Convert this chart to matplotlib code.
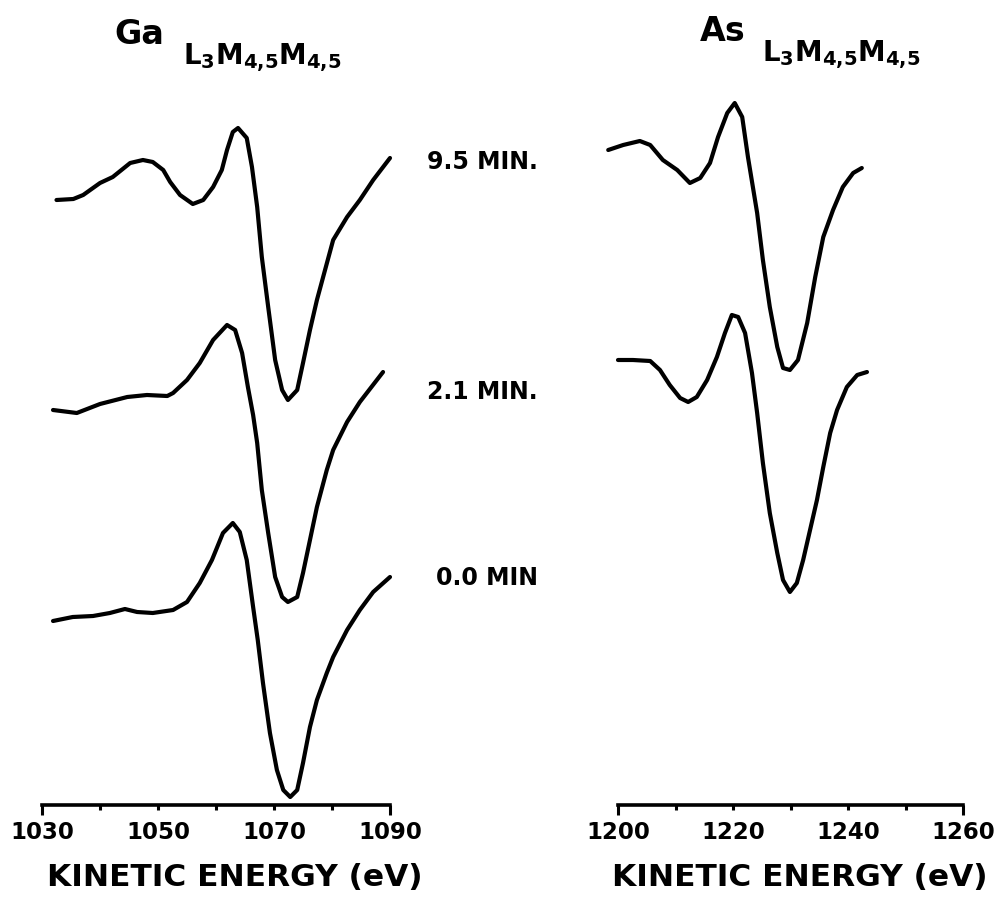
import numpy as np
import matplotlib.pyplot as plt
from matplotlib.ticker import MultipleLocator

# Ga L3M45M45 spectra (kinetic energy in eV, signal in arbitrary units incl. vertical offset)
ga_95_e = [1032.5, 1035.4, 1037.1, 1040.0, 1042.2, 1045.2, 1047.4, 1049.1, 1050.9, 1052.1,
           1053.8, 1056.0, 1057.8, 1059.5, 1061.0, 1061.9, 1062.9, 1063.8, 1065.3, 1066.2,
           1067.1, 1067.9, 1069.0, 1070.2, 1071.4, 1072.4, 1074.0, 1075.0, 1076.2, 1077.4,
           1078.8, 1080.2, 1082.6, 1084.8, 1087.1, 1090.0]
ga_95_y = [600, 601, 605, 617, 623, 637, 640, 638, 630, 618,
           605, 596, 600, 613, 630, 650, 668, 672, 662, 633,
           593, 543, 493, 440, 410, 400, 410, 437, 470, 500,
           530, 560, 583, 600, 620, 642]

ga_21_e = [1031.9, 1036.0, 1040.0, 1044.7, 1048.1, 1051.6, 1052.6, 1055.0, 1057.2, 1059.5,
           1061.9, 1063.3, 1064.5, 1065.5, 1066.4, 1067.1, 1067.9, 1069.0, 1070.2, 1071.4,
           1072.4, 1074.0, 1075.0, 1076.2, 1077.4, 1079.1, 1080.2, 1082.6, 1084.8, 1088.8]
ga_21_y = [390, 387, 396, 403, 405, 404, 407, 420, 437, 460,
           475, 470, 447, 413, 385, 357, 310, 267, 223, 203,
           198, 203, 227, 260, 293, 330, 350, 378, 398, 428]

ga_00_e = [1031.9, 1035.3, 1038.8, 1041.7, 1044.3, 1046.4, 1049.1, 1052.6, 1055.0, 1057.2,
           1059.3, 1061.2, 1062.9, 1064.1, 1065.3, 1066.4, 1067.2, 1068.1, 1069.3, 1070.5,
           1071.6, 1072.8, 1074.0, 1075.0, 1076.2, 1077.4, 1079.1, 1080.2, 1082.6, 1084.8,
           1087.1, 1090.0]
ga_00_y = [179, 183, 184, 187, 191, 188, 187, 190, 198, 217,
           240, 267, 277, 268, 240, 193, 160, 117, 67, 30,
           10, 3, 10, 37, 73, 100, 127, 143, 170, 190,
           208, 223]

# As L3M45M45 spectra
as_top_e = [1198.3, 1200.9, 1203.8, 1205.6, 1207.8, 1210.3, 1212.5, 1214.3, 1216.0, 1217.4,
            1219.0, 1220.3, 1221.6, 1222.6, 1224.2, 1225.2, 1226.4, 1227.7, 1228.7, 1229.9,
            1231.3, 1232.9, 1234.3, 1235.7, 1237.4, 1239.1, 1240.9, 1242.4]
as_top_y = [650, 655, 659, 655, 640, 630, 617, 622, 637, 663,
            687, 697, 683, 643, 587, 540, 493, 453, 432, 430,
            440, 477, 523, 563, 590, 613, 627, 632]

as_bot_e = [1200.0, 1202.6, 1205.6, 1207.3, 1209.0, 1210.8, 1212.2, 1213.7, 1215.5, 1217.2,
            1218.6, 1219.8, 1220.9, 1222.1, 1223.3, 1224.2, 1225.2, 1226.4, 1227.7, 1228.7,
            1229.9, 1231.1, 1232.2, 1233.4, 1234.6, 1235.7, 1236.9, 1238.1, 1239.8, 1241.6,
            1243.3]
as_bot_y = [440, 440, 439, 430, 415, 402, 398, 403, 420, 443,
            467, 485, 483, 467, 427, 387, 337, 287, 247, 220,
            208, 217, 240, 270, 300, 333, 367, 390, 413, 425,
            428]

time_labels = ["9.5 MIN.", "2.1 MIN.", "0.0 MIN"]
ga_ticks = [1030, 1050, 1070, 1090]
as_ticks = [1200, 1220, 1240, 1260]

W, H = 1004, 898
fig = plt.figure(figsize=(W / 100, H / 100), dpi=100)
plt.rcParams['font.family'] = ['DejaVu Sans']


def px_axes(x0, x1, ytop, ybot):
    return fig.add_axes([x0 / W, 1 - ybot / H, (x1 - x0) / W, (ybot - ytop) / H])


def style(ax, xlim, ticks, label_x):
    ax.set_xlim(*xlim)
    ax.set_ylim(-5, 700)
    for s in ['top', 'left', 'right']:
        ax.spines[s].set_visible(False)
    ax.spines['bottom'].set_linewidth(2.6)
    ax.set_yticks([])
    ax.set_xticks(ticks)
    ax.xaxis.set_minor_locator(MultipleLocator(10))
    ax.tick_params(axis='x', which='major', length=3.5, width=2.2, pad=8,
                   labelsize=16.5)
    ax.tick_params(axis='x', which='minor', length=3.5, width=2.2)
    # longer end ticks
    mt = ax.xaxis.get_major_ticks()
    for t in (mt[0], mt[-1]):
        t.tick1line.set_markersize(7)
    for lab in ax.get_xticklabels():
        lab.set_fontweight('heavy')
    ax.set_xlabel("KINETIC ENERGY (eV)", fontsize=22.5, fontweight='heavy')
    ax.xaxis.label.set_va('center')
    ax.xaxis.set_label_coords(label_x, -0.103)
    ax.patch.set_visible(False)


ax1 = px_axes(42, 390, 100, 805)
for e, y in [(ga_95_e, ga_95_y), (ga_21_e, ga_21_y), (ga_00_e, ga_00_y)]:
    ax1.plot(e, y, color='black', lw=3.0, solid_capstyle='round', clip_on=False)
style(ax1, (1030, 1090), ga_ticks, (235 - 42) / 348)

ax2 = px_axes(618, 963, 100, 805)
for e, y in [(as_top_e, as_top_y), (as_bot_e, as_bot_y)]:
    ax2.plot(e, y, color='black', lw=3.0, solid_capstyle='round', clip_on=False)
style(ax2, (1200, 1260), as_ticks, (800 - 618) / 345)

# time labels between the panels
for lab, py in zip(time_labels, [162, 392, 578]):
    fig.text(538 / W, 1 - py / H, lab, ha='right', va='center',
             fontsize=17, fontweight='heavy')

# panel titles
fig.text(114 / W, 1 - 44 / H, "Ga", fontsize=24, fontweight='heavy', ha='left', va='baseline')
fig.text(183 / W, 1 - 64 / H, r"$\mathbf{L_{3}M_{4{,}5}M_{4{,}5}}$", fontsize=20,
         ha='left', va='baseline')
fig.text(700 / W, 1 - 41 / H, "As", fontsize=24, fontweight='heavy', ha='left', va='baseline')
fig.text(762 / W, 1 - 61 / H, r"$\mathbf{L_{3}M_{4{,}5}M_{4{,}5}}$", fontsize=20,
         ha='left', va='baseline')

fig.savefig("out.png", dpi=100, facecolor='white')
